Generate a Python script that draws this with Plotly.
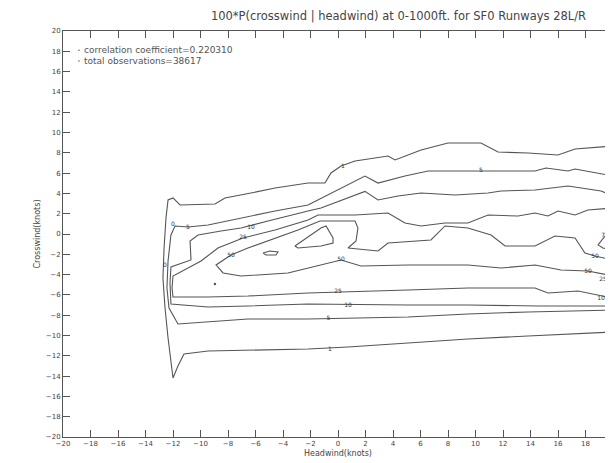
import plotly.graph_objects as go

title = "100*P(crosswind | headwind) at 0-1000ft. for SF0 Runways 28L/R"
x_title = "Headwind(knots)"
y_title = "Crosswind(knots)"
x_ticks = list(range(-20, 21, 2))
y_ticks = list(range(-20, 21, 2))
annot_lines = ["correlation coefficient=0.220310", "total observations=38617"]

# contour lines (headwind, crosswind); each runs from the right edge,
# round the left end and back to the right edge
c1_x = [20.0, 17.24, 16.0, 13.82, 11.64, 10.4, 8.0, 6.04, 4.15, 3.64, 1.24, 0.22, -0.51, -0.95, -2.18, -4.58, -6.33, -8.22,
        -8.95, -11.49, -12.0, -12.36, -12.51, -12.65, -12.73, -12.58, -12.36, -12.15, -12.0, -11.64, -11.2, -9.45, -6.55,
        -2.18, 0.73, 5.09, 9.45, 13.82, 17.45, 20.0]
c1_y = [8.67, 8.37, 7.78, 7.98, 8.08, 8.97, 8.97, 8.28, 7.29, 7.68, 7.19, 6.7, 6.01, 5.02, 5.02, 4.53, 4.04, 3.55,
        2.96, 2.86, 3.55, 3.35, 1.58, -1.38, -4.33, -7.29, -10.25, -12.71, -14.19, -13.0, -11.82, -11.53, -11.43,
        -11.33, -11.13, -10.74, -10.34, -10.05, -9.85, -9.66]
c2_x = [20.0, 19.64, 17.24, 16.73, 15.13, 14.33, 11.13, 9.96, 6.55, 4.87, 2.91, 1.96, -0.51, -2.18, -4.58, -7.05, -9.45,
        -10.91, -11.85, -12.15, -12.36, -12.44, -12.29, -11.64, -9.45, -6.55, -2.18, 5.09, 9.45, 13.82, 20.0]
c2_y = [5.71, 5.81, 6.4, 6.21, 6.5, 6.21, 6.21, 6.21, 6.21, 5.71, 5.02, 5.71, 4.04, 2.86, 2.27, 1.58, 0.89,
        0.69, 0.79, -0.1, -2.66, -5.32, -7.29, -8.87, -8.67, -8.37, -8.37, -8.18, -7.88, -7.68, -7.49]
c3_x = [20.0, 19.85, 19.13, 16.73, 14.33, 11.85, 10.91, 8.51, 6.04, 4.36, 2.91, 1.96, -1.24, -2.18, -5.09, -7.05, -8.51,
        -10.18, -10.76, -10.69, -12.15, -12.22, -12.15, -9.45, -6.55, -2.18, 5.09, 9.45, 14.55, 20.0]
c3_y = [3.84, 3.84, 4.24, 4.73, 4.33, 4.24, 4.04, 3.84, 4.04, 3.74, 3.35, 4.2, 2.56, 2.27, 1.28, 0.59, 0.3,
        -0.1, -0.69, -2.56, -3.25, -4.83, -6.9, -7.19, -7.09, -6.9, -7.0, -7.0, -7.09, -7.09]
c4_x = [20.0, 18.18, 17.24, 16.0, 15.27, 14.33, 13.09, 10.91, 9.45, 7.78, 6.04, 4.87, 3.64, 1.24, -1.45, -2.18, -4.58,
        -6.91, -8.73, -9.96, -12.0, -12.07, -12.0, -9.45, -6.55, -2.18, 5.09, 9.45, 14.33, 15.27, 17.45, 19.13, 20.0]
c4_y = [2.56, 2.36, 1.87, 2.27, 1.77, 2.07, 1.77, 1.87, 1.08, 1.08, 0.79, 1.08, 2.07, 1.87, 1.87, 1.38, 0.39,
        -0.39, -1.38, -2.66, -4.14, -5.32, -6.21, -6.21, -6.11, -5.81, -5.52, -5.32, -5.32, -5.81, -5.62, -6.11, -6.31]
c5_x = [20.0, 18.69, 17.96, 17.24, 15.78, 14.33, 12.15, 11.13, 9.45, 7.78, 6.76, 3.64, 2.91, 0.73, 1.31, 1.45, 1.24,
        -1.31, -2.91, -4.95, -6.55, -7.78, -8.87, -8.36, -7.05, -3.64, -2.18, 0.22, 1.67, 5.09, 9.45, 11.85, 14.33,
        16.22, 18.18, 20.0]
c5_y = [-2.56, -2.17, -1.87, -0.39, -0.2, -1.18, -1.18, -0.1, 0.59, 0.79, -0.59, -0.89, -1.67, -1.38, -0.69, 0.59, 1.28,
        1.28, 0.39, -0.59, -1.38, -2.07, -3.05, -3.84, -4.14, -3.84, -3.35, -2.56, -3.15, -3.05, -3.05, -3.35, -3.05,
        -3.55, -3.65, -4.14]
c6_x = [-3.13, -1.24, -0.87, -0.36, -0.36, -1.24, -2.91, -3.13]
c6_y = [-1.18, 0.59, 0.79, -0.39, -0.89, -1.18, -1.38, -1.18]
c7_x = [-5.45, -4.95, -4.36, -4.51, -5.24, -5.45]
c7_y = [-1.87, -1.67, -1.77, -2.07, -2.07, -1.87]
c8_x = [20.0, 19.42, 18.91, 19.27, 20.0]
c8_y = [0.78, -0.2, -1.08, -1.38, -1.57]
dot_x = [-8.95]
dot_y = [-4.93]

label_x = [0.36, -0.58, -10.91, 10.4, -6.33, -6.91, 0.0, -7.78, 0.22, 18.69, 0.73, -0.7, 18.18, 19.27, 19.13, 19.42, -12.0, -12.58]
label_y = [6.7, -11.33, 0.69, 6.21, 0.69, -0.39, -5.71, -2.07, -2.56, -2.17, -7.0, -8.37, -3.65, -4.53, -6.31, -0.1, 0.89, -3.15]
label_text = ["1", "1", "5", "5", "10", "25", "25", "50", "50", "50", "10", "5", "50", "25", "10", "75", "0", "0"]

lines = [(c1_x, c1_y), (c2_x, c2_y), (c3_x, c3_y), (c4_x, c4_y), (c5_x, c5_y), (c6_x, c6_y), (c7_x, c7_y), (c8_x, c8_y)]

fig = go.Figure()
for lx, ly in lines:
    fig.add_trace(go.Scatter(x=lx, y=ly, mode="lines", line=dict(color="#555", width=1.1), showlegend=False,
                             hoverinfo="skip"))
fig.add_trace(go.Scatter(x=dot_x, y=dot_y, mode="markers", marker=dict(size=2.5, color="#555"), showlegend=False,
                         hoverinfo="skip"))
fig.add_trace(go.Scatter(x=label_x, y=label_y, mode="text", text=label_text, textfont=dict(size=6, color="#333"),
                         showlegend=False, hoverinfo="skip"))

fig.add_trace(go.Scatter(x=[-18.84, -18.84], y=[18.1, 17.05], mode="markers", marker=dict(size=1.5, color="#555"),
                         showlegend=False, hoverinfo="skip"))
fig.add_annotation(x=-18.4, y=18.1, xref="x", yref="y", text=annot_lines[0], showarrow=False, xanchor="left",
                   xshift=-3, font=dict(size=9, color="#555"))
fig.add_annotation(x=-18.4, y=17.05, xref="x", yref="y", text=annot_lines[1], showarrow=False, xanchor="left",
                   xshift=-3, font=dict(size=9, color="#555"))
# last x tick label at the right edge, nudged inward so it is not cut off
fig.add_annotation(x=x_ticks[-1], y=0, xref="x", yref="paper", text=str(x_ticks[-1]), showarrow=False,
                   xanchor="center", xshift=-3, yanchor="top", yshift=-1, borderpad=0,
                   font=dict(size=7, color="#444"))

fig.update_layout(
    width=613, height=463,
    margin=dict(l=55, r=8, t=23, b=34),
    plot_bgcolor="white", paper_bgcolor="white",
    font=dict(family="DejaVu Sans", size=7, color="#444"),
    title=dict(text=title, x=0.331, y=0.992, xanchor="left", yanchor="top", font=dict(size=11.5, color="#444")),
    showlegend=False,
)
fig.update_xaxes(range=[-20, 20], tickvals=x_ticks[:-1], ticks="inside", ticklen=7, tickcolor="#555", showgrid=False,
                 zeroline=False, showline=True, linecolor="#555", mirror="ticks", tickfont=dict(size=7, color="#444"),
                 title=dict(text=x_title, standoff=2, font=dict(size=8, color="#444")))
fig.update_yaxes(range=[-20, 20], tickvals=y_ticks, ticks="inside", ticklen=7, tickcolor="#555", showgrid=False,
                 zeroline=False, showline=True, linecolor="#555", mirror="ticks", tickfont=dict(size=7, color="#444"),
                 title=dict(text=y_title, standoff=4, font=dict(size=8, color="#444")))
fig.write_html("out.html")
